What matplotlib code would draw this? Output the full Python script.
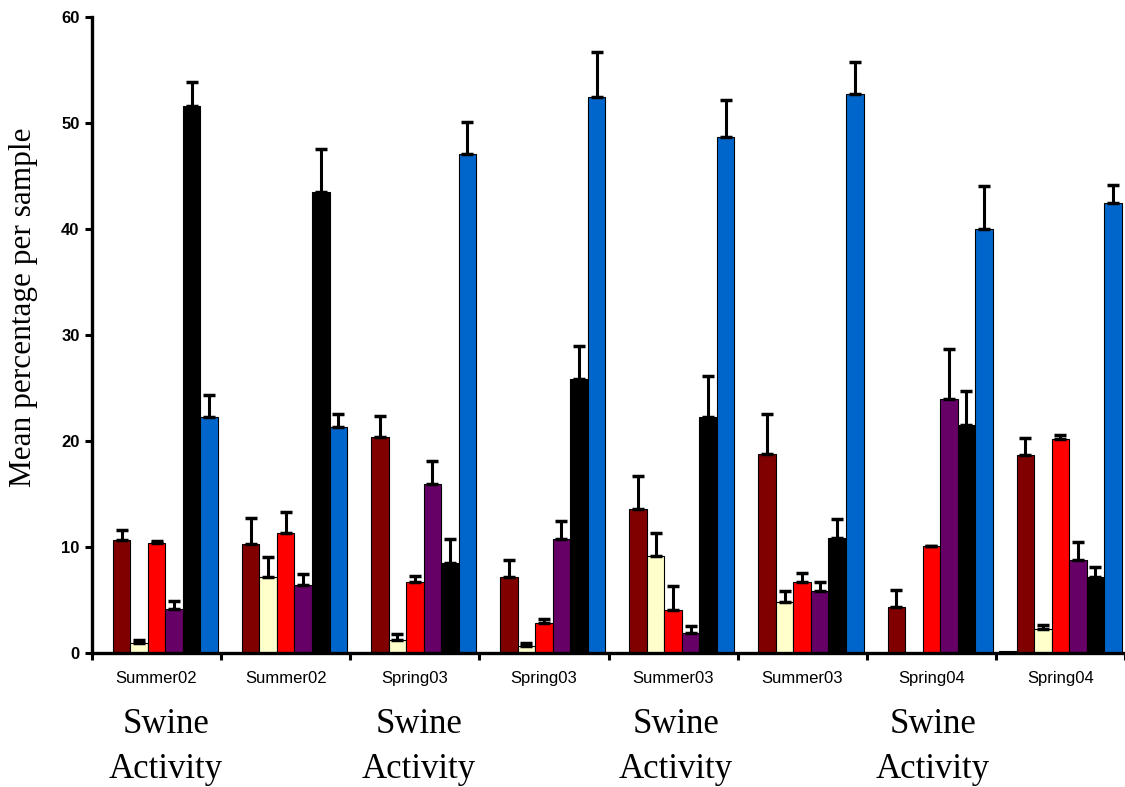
import numpy as np
import matplotlib
matplotlib.use('Agg')
import matplotlib.pyplot as plt

seasons = ['Summer02', 'Summer02', 'Spring03', 'Spring03',
           'Summer03', 'Summer03', 'Spring04', 'Spring04']

# mean percentage per sample for each group, one list per series
other = [0, 0, 0, 0, 0, 0, 0, 0.2]
dark_red = [10.7, 10.3, 20.4, 7.2, 13.6, 18.8, 4.35, 18.7]
cream = [1.0, 7.2, 1.25, 0.7, 9.2, 4.8, 0, 2.3]
red = [10.4, 11.35, 6.75, 2.85, 4.1, 6.7, 10.1, 20.2]
purple = [4.15, 6.4, 16.0, 10.8, 1.9, 5.9, 24.0, 8.8]
black = [51.6, 43.5, 8.55, 25.9, 22.3, 10.9, 21.5, 7.2]
blue = [22.3, 21.3, 47.1, 52.5, 48.7, 52.8, 40.0, 42.5]

# upper standard errors
other_err = [0, 0, 0, 0, 0, 0, 0, 0]
dark_red_err = [0.95, 2.5, 2.0, 1.6, 3.1, 3.8, 1.65, 1.6]
cream_err = [0.2, 1.85, 0.55, 0.25, 2.15, 1.1, 0, 0.4]
red_err = [0.2, 1.95, 0.55, 0.4, 2.2, 0.9, 0.05, 0.4]
purple_err = [0.75, 1.1, 2.1, 1.7, 0.65, 0.8, 4.7, 1.7]
black_err = [2.3, 4.1, 2.2, 3.1, 3.9, 1.8, 3.2, 0.9]
blue_err = [2.1, 1.3, 3.0, 4.2, 3.5, 3.0, 4.1, 1.7]

series = [other, dark_red, cream, red, purple, black, blue]
errors = [other_err, dark_red_err, cream_err, red_err, purple_err, black_err, blue_err]
colors = ['#FFFFFF', '#800000', '#FFFFCC', '#FF0000', '#660066', '#000000', '#0066CC']

fig = plt.figure(figsize=(11.25, 7.87), dpi=100)
ax = fig.add_axes([0.0818, 0.170, 0.9182, 0.808])

n = len(series)
w = 0.95 / n
x = np.arange(len(seasons))
for i, (vals, errs, c) in enumerate(zip(series, errors, colors)):
    pos = x + 0.025 + w * (i + 0.5)
    ax.bar(pos, vals, width=w, color=c, edgecolor='black', linewidth=0.8, zorder=2)
    errs = np.array(errs)
    show = errs > 0
    ax.errorbar(pos[show], np.array(vals)[show],
                yerr=[np.zeros(show.sum()), errs[show]],
                fmt='none', ecolor='black', elinewidth=2.2, capsize=4, capthick=2.5, zorder=3)

ax.set_xlim(0, 8)
ax.set_ylim(0, 60)
ax.set_yticks(range(0, 61, 10))
ax.set_yticklabels([str(v) for v in range(0, 61, 10)],
                   fontfamily='Liberation Sans', fontweight='bold', fontsize=12)
ax.set_xticks(range(0, 9))
ax.set_xticklabels([])
ax.set_xticks(x + 0.5, minor=True)
ax.set_xticklabels(seasons, minor=True, fontfamily='Liberation Sans', fontsize=12)
ax.tick_params(axis='x', which='minor', length=0, pad=13)
ax.tick_params(axis='x', which='major', length=5, width=2.2, direction='out')
ax.tick_params(axis='y', length=5, width=2.2, direction='out', pad=4)

for side in ['top', 'right']:
    ax.spines[side].set_visible(False)
for side in ['left', 'bottom']:
    ax.spines[side].set_linewidth(2.4)

ax.set_ylabel('Mean percentage per sample', fontfamily='Liberation Serif', fontsize=22.5)
ax.yaxis.set_label_coords(-0.052, 0.544)

# swine activity notes under the season labels
for xs in [0.57, 2.53, 4.52, 6.51]:
    ax.text(xs, -5.2, 'Swine\nActivity', ha='center', va='top', fontfamily='Liberation Serif',
            fontsize=25, linespacing=1.45, transform=ax.transData, clip_on=False)

fig.savefig('out.png', dpi=100)
